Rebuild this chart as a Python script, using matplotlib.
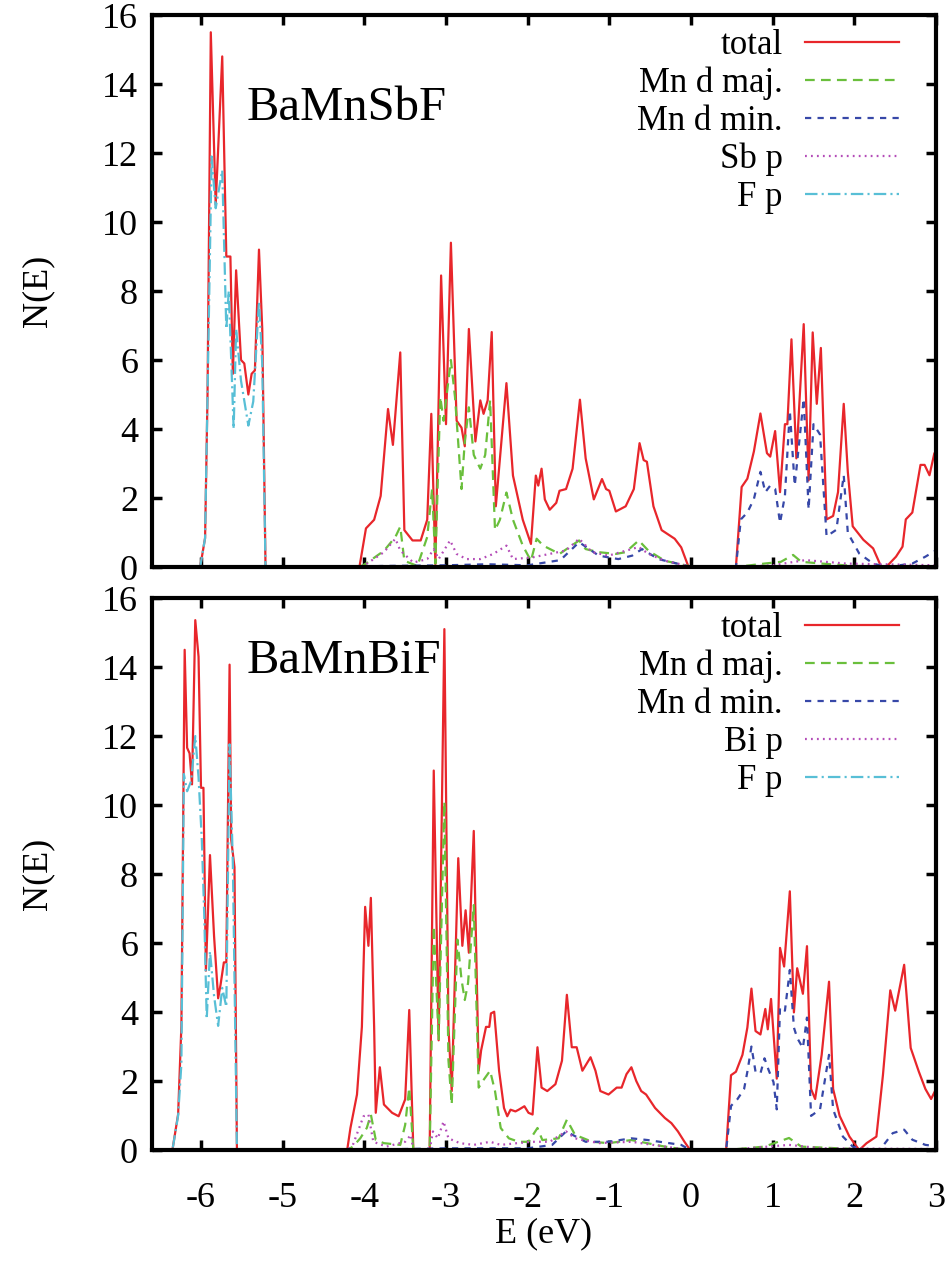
import numpy as np
import matplotlib
matplotlib.use("Agg")
import matplotlib.pyplot as plt

plt.rcParams['font.family'] = ['Liberation Serif', 'DejaVu Serif']
plt.rcParams['lines.scale_dashes'] = False
plt.rcParams['axes.unicode_minus'] = False

# ---- BaMnSbF (top panel) ----
sbf_total_E = [-6.6, -6.01, -5.95, -5.92, -5.88, -5.82, -5.74, -5.69, -5.64, -5.61, -5.57, -5.51, -5.47,
               -5.42, -5.38, -5.34, -5.29, -5.25, -5.21, -4.06, -3.98, -3.88, -3.80, -3.71, -3.65, -3.56,
               -3.51, -3.41, -3.31, -3.23, -3.18, -3.13, -3.06, -3.00, -2.94, -2.87, -2.81, -2.77, -2.72,
               -2.64, -2.58, -2.54, -2.49, -2.44, -2.39, -2.26, -2.18, -2.06, -1.96, -1.90, -1.87, -1.83,
               -1.79, -1.73, -1.65, -1.61, -1.53, -1.45, -1.36, -1.29, -1.19, -1.09, -1.04, -1.00, -0.92,
               -0.80, -0.70, -0.63, -0.58, -0.54, -0.46, -0.36, -0.20, -0.12, -0.03, 0.55, 0.62, 0.69,
               0.77, 0.85, 0.93, 0.97, 1.03, 1.09, 1.15, 1.18, 1.23, 1.29, 1.38, 1.44, 1.49, 1.54, 1.59,
               1.66, 1.74, 1.80, 1.87, 1.92, 1.98, 2.11, 2.23, 2.33, 2.39, 2.51, 2.59, 2.63, 2.71, 2.81,
               2.86, 2.92, 2.98, 3.04]
sbf_total_N = [0, 0, 0.84, 5.0, 15.5, 10.5, 14.8, 9.0, 9.0, 5.6, 8.6, 6.0, 5.9,
               5.0, 5.6, 5.7, 9.2, 6.9, 0, 0, 1.12, 1.37, 2.06, 4.58, 3.54, 6.22,
               1.07, 0.77, 0.77, 1.37, 4.44, 0.08, 8.45, 4.14, 9.4, 4.24, 4.04, 3.5, 6.9,
               3.64, 4.83, 4.44, 4.83, 6.81, 1.76, 5.33, 2.65, 1.37, 0.67, 2.65, 2.36, 2.85,
               1.96, 1.66, 1.86, 2.21, 2.26, 2.85, 4.85, 3.15, 1.96, 2.55, 2.26, 2.21, 1.61,
               1.76, 2.26, 3.59, 3.10, 3.05, 1.76, 1.07, 0.82, 0.57, 0, 0, 2.32, 2.56,
               3.35, 4.45, 3.30, 3.2, 3.94, 2.17, 4.14, 4.14, 6.60, 3.15, 7.04, 2.51, 6.80, 4.73, 6.35,
               1.38, 1.48, 2.17, 4.73, 2.76, 1.18, 0.79, 0.54, 0, 0, 0.3, 0.59, 1.38, 1.58, 2.96,
               2.96, 2.66, 3.3, 3.15]

sbf_majd_E = [-6.6, -4.06, -3.98, -3.76, -3.62, -3.56, -3.51, -3.35, -3.23, -3.17, -3.13, -3.07, -3.03,
              -2.94, -2.89, -2.81, -2.77, -2.72, -2.66, -2.58, -2.52, -2.46, -2.40, -2.34, -2.26, -2.18,
              -2.06, -1.96, -1.89, -1.81, -1.61, -1.37, -1.29, -1.13, -0.92, -0.80, -0.64, -0.52, -0.32,
              -0.03, 0.0, 0.55, 0.9, 1.1, 1.25, 1.35, 1.6, 2.0, 3.04]
sbf_majd_N = [0, 0, 0.1, 0.47, 0.87, 1.17, 0.18, 0.03, 0.87, 2.26, 0.1, 4.93, 4.24,
              6.0, 4.93, 2.26, 3.64, 4.63, 3.25, 2.85, 3.25, 4.83, 1.07, 1.37, 2.16, 1.37,
              0.62, 0.18, 0.82, 0.62, 0.38, 0.77, 0.52, 0.43, 0.38, 0.43, 0.77, 0.47, 0.18,
              0.03, 0, 0, 0.1, 0.15, 0.35, 0.15, 0.1, 0.03, 0]

sbf_mind_E = [-6.6, -4.06, -3.8, -3.0, -2.5, -2.0, -1.6, -1.37, -1.13, -0.89, -0.72, -0.60, -0.40,
              -0.05, 0.0, 0.55, 0.61, 0.69, 0.77, 0.85, 0.91, 0.97, 1.03, 1.09, 1.15, 1.21, 1.27, 1.38,
              1.44, 1.50, 1.58, 1.66, 1.78, 1.87, 1.92, 2.06, 2.23, 2.39, 2.71, 2.87, 3.04]
sbf_mind_N = [0, 0, 0.03, 0.05, 0.08, 0.05, 0.2, 0.72, 0.33, 0.23, 0.33, 0.52, 0.23,
              0.03, 0, 0, 1.38, 1.58, 1.97, 2.76, 2.17, 2.36, 2.27, 1.28, 2.07, 4.53, 2.36, 4.88,
              1.67, 4.14, 3.84, 0.89, 1.08, 2.66, 0.99, 0.39, 0.1, 0.0, 0.1, 0.3, 0.54]

sbf_sbp_E = [-6.6, -4.06, -3.98, -3.76, -3.62, -3.56, -3.40, -3.23, -3.15, -3.09, -2.95, -2.87, -2.75,
             -2.58, -2.42, -2.26, -2.18, -1.94, -1.73, -1.53, -1.37, -1.21, -1.01, -0.64, -0.52, -0.32,
             -0.03, 0.0, 0.55, 1.0, 1.4, 1.9, 3.04]
sbf_sbp_N = [0, 0, 0.08, 0.43, 0.82, 0.48, 0.13, 0.23, 0.52, 0.23, 0.77, 0.38, 0.23,
             0.23, 0.38, 0.62, 0.23, 0.28, 0.38, 0.48, 0.82, 0.43, 0.33, 0.58, 0.38, 0.18,
             0.03, 0, 0, 0.05, 0.2, 0.1, 0.05]

sbf_fp_E = [-6.6, -6.01, -5.95, -5.92, -5.87, -5.82, -5.74, -5.69, -5.66, -5.60, -5.57, -5.51, -5.42,
            -5.36, -5.29, -5.25, -5.21, 3.04]
sbf_fp_N = [0, 0, 0.84, 5.0, 11.9, 10.4, 11.5, 6.9, 8.0, 4.0, 6.9, 5.4, 4.1,
            4.8, 7.7, 5.9, 0, 0]

# ---- BaMnBiF (bottom panel) ----
bif_total_E = [-6.6, -6.35, -6.28, -6.24, -6.20, -6.17, -6.14, -6.11, -6.07, -6.03, -6.00, -5.97, -5.94,
               -5.89, -5.84, -5.79, -5.76, -5.72, -5.69, -5.65, -5.63, -5.59, -5.56, -4.21, -4.17, -4.09,
               -4.03, -3.99, -3.95, -3.92, -3.88, -3.86, -3.81, -3.76, -3.66, -3.58, -3.50, -3.45, -3.40,
               -3.20, -3.15, -3.09, -3.02, -2.97, -2.93, -2.85, -2.80, -2.76, -2.72, -2.66, -2.60, -2.57,
               -2.51, -2.47, -2.45, -2.41, -2.35, -2.29, -2.25, -2.21, -2.15, -2.11, -2.04, -1.99, -1.94,
               -1.88, -1.83, -1.76, -1.66, -1.58, -1.52, -1.46, -1.40, -1.33, -1.23, -1.17, -1.11, -1.01,
               -0.91, -0.85, -0.79, -0.73, -0.67, -0.61, -0.55, -0.44, -0.32, -0.24, -0.16, -0.08, -0.01,
               0.43, 0.49, 0.55, 0.63, 0.69, 0.74, 0.79, 0.85, 0.91, 0.94, 0.98, 1.05, 1.09, 1.14, 1.21,
               1.26, 1.30, 1.37, 1.42, 1.47, 1.52, 1.60, 1.69, 1.74, 1.82, 1.94, 2.06, 2.15, 2.27, 2.35,
               2.44, 2.50, 2.61, 2.69, 2.79, 2.87, 2.94, 3.0, 3.04]
bif_total_N = [0, 0, 1.04, 3.6, 14.5, 11.66, 11.5, 10.6, 15.36, 14.3, 10.5, 10.5, 5.2,
               8.55, 6.2, 4.4, 4.8, 5.44, 5.44, 14.07, 9.0, 8.2, 0, 0, 0.64, 1.61,
               3.57, 7.05, 5.92, 7.31, 3.57, 1.08, 2.4, 1.32, 1.08, 0.98, 1.47, 4.06, 0,
               0, 11.0, 3.18, 15.1, 3.57, 1.71, 8.46, 5.92, 6.95, 5.72, 9.25, 2.3, 2.89,
               3.57, 3.57, 3.96, 4.01, 2.3, 1.22, 0.98, 1.17, 1.12, 1.17, 1.27, 1.08, 1.03,
               2.98, 1.81, 1.71, 1.91, 2.59, 4.5, 2.98, 2.98, 2.3, 2.69, 2.3, 1.71, 1.61,
               1.81, 1.81, 2.2, 2.4, 2.0, 1.71, 1.61, 1.22, 0.93, 0.78, 0.54, 0.24, 0,
               0, 2.17, 2.27, 2.76, 3.55, 4.68, 3.45, 3.35, 4.09, 3.5, 4.38, 2.07, 5.86, 5.32, 7.5,
               3.99, 5.27, 4.53, 5.91, 1.77, 1.48, 2.76, 4.88, 1.77, 0.99, 0.39, 0, 0.2, 0.39, 2.17,
               4.63, 4.04, 5.37, 2.96, 2.27, 1.77, 1.48, 1.77, 1.7]

bif_majd_E = [-6.6, -4.21, -4.14, -4.05, -3.97, -3.92, -3.86, -3.76, -3.56, -3.50, -3.45, -3.40, -3.20,
              -3.15, -3.09, -3.02, -2.97, -2.93, -2.86, -2.81, -2.77, -2.73, -2.66, -2.60, -2.55, -2.46,
              -2.40, -2.33, -2.23, -2.11, -1.99, -1.88, -1.82, -1.62, -1.52, -1.42, -1.21, -1.01, -0.73,
              -0.32, -0.03, 0.43, 0.9, 1.2, 1.35, 2.0, 3.04]
bif_majd_N = [0, 0, 0.1, 0.34, 0.64, 1.03, 0.29, 0.2, 0.15, 0.73, 1.81, 0, 0,
              6.5, 3.18, 10.1, 2.6, 1.32, 6.1, 4.94, 4.35, 4.84, 7.1, 1.81, 2.0, 2.3,
              1.71, 0.64, 0.34, 0.24, 0.24, 0.64, 0.29, 0.34, 0.88, 0.44, 0.24, 0.2, 0.29,
              0.1, 0, 0, 0.1, 0.35, 0.1, 0.03, 0]

bif_mind_E = [-6.6, -4.21, -3.8, -3.0, -2.5, -2.0, -1.7, -1.53, -1.29, -1.01, -0.73, -0.53, -0.12,
              -0.01, 0.43, 0.49, 0.57, 0.65, 0.69, 0.74, 0.79, 0.85, 0.90, 0.95, 1.01, 1.05, 1.09, 1.15,
              1.21, 1.26, 1.30, 1.37, 1.42, 1.47, 1.58, 1.69, 1.74, 1.86, 1.98, 2.15, 2.31, 2.47, 2.61,
              2.71, 2.87, 3.04]
bif_mind_N = [0, 0, 0.02, 0.05, 0.05, 0.05, 0.15, 0.54, 0.24, 0.24, 0.34, 0.29, 0.15,
              0, 0, 1.28, 1.48, 1.77, 2.27, 3.0, 2.27, 2.22, 2.66, 2.32, 1.97, 1.18, 4.14, 4.04,
              5.22, 3.55, 3.25, 2.96, 3.84, 0.99, 1.18, 2.76, 1.18, 0.39, 0.1, 0, 0, 0.49, 0.59,
              0.3, 0.15, 0.1]

bif_bip_E = [-6.6, -4.21, -4.14, -4.01, -3.95, -3.89, -3.73, -3.50, -3.43, -3.40, -3.20, -3.16, -3.10,
             -3.03, -2.97, -2.83, -2.66, -2.46, -2.33, -2.13, -1.94, -1.73, -1.53, -1.42, -1.13, -0.73,
             -0.32, -0.01, 0.43, 1.2, 1.6, 3.04]
bif_bip_N = [0, 0, 0.15, 0.98, 1.03, 0.24, 0.1, 0.24, 0.44, 0, 0, 0.54, 0.34,
             0.83, 0.34, 0.2, 0.15, 0.24, 0.15, 0.2, 0.24, 0.24, 0.54, 0.34, 0.2, 0.24,
             0.1, 0, 0, 0.15, 0.05, 0.03]

bif_fp_E = [-6.6, -6.35, -6.28, -6.24, -6.21, -6.17, -6.12, -6.07, -6.03, -5.99, -5.96, -5.93, -5.89,
            -5.84, -5.79, -5.74, -5.69, -5.65, -5.61, -5.56, 3.04]
bif_fp_N = [0, 0, 1.0, 2.5, 10.9, 10.4, 10.7, 12.0, 10.8, 9.0, 6.8, 3.8, 5.76,
            4.47, 3.6, 4.7, 4.15, 11.76, 8.3, 0, 0]

x_ticks = [-6, -5, -4, -3, -2, -1, 0, 1, 2, 3]
y_ticks = [0, 2, 4, 6, 8, 10, 12, 14, 16]

styles = [
    dict(color='#e8262b', lw=1.6, ls='-'),
    dict(color='#6abf3c', lw=1.6, dashes=(7, 4.5)),
    dict(color='#3748a8', lw=1.6, dashes=(4.5, 4.5)),
    dict(color='#b44cb8', lw=1.6, dashes=(1.3, 3)),
    dict(color='#58bfd6', lw=1.6, dashes=(9, 3, 1.5, 3)),
]

panels = [
    ("BaMnSbF", "Sb p", [(sbf_total_E, sbf_total_N), (sbf_majd_E, sbf_majd_N), (sbf_mind_E, sbf_mind_N),
                         (sbf_sbp_E, sbf_sbp_N), (sbf_fp_E, sbf_fp_N)], 0.81),
    ("BaMnBiF", "Bi p", [(bif_total_E, bif_total_N), (bif_majd_E, bif_majd_N), (bif_mind_E, bif_mind_N),
                         (bif_bip_E, bif_bip_N), (bif_fp_E, bif_fp_N)], 0.864),
]

fig = plt.figure(figsize=(9.47, 12.62), dpi=100)
ax_top = fig.add_axes([0.1605, 0.5507, 0.8279, 0.4374])
ax_bot = fig.add_axes([0.1605, 0.0887, 0.8279, 0.4374])

for ax, (name, p_label, curves, ty) in zip([ax_top, ax_bot], panels):
    labels = ["total", "Mn d maj.", "Mn d min.", p_label, "F p"]
    for (E, N), st, lab in zip(curves, styles, labels):
        ax.plot(E, N, label=lab, **st)
    ax.set_xlim(-6.6, 3)
    ax.set_ylim(0, 16)
    ax.set_xticks(x_ticks)
    ax.set_yticks(y_ticks)
    ax.tick_params(direction='in', length=7, width=2.5, top=True, right=True,
                   labelsize=26)
    ax.tick_params(axis='y', pad=10)
    ax.tick_params(axis='x', pad=23)
    for sp in ax.spines.values():
        sp.set_linewidth(3)
    ax.set_ylabel("N(E)", fontsize=26, labelpad=34)
    ax.text(0.12, ty, name, transform=ax.transAxes, fontsize=35, va='baseline', ha='left')
    leg = ax.legend(loc='upper right', bbox_to_anchor=(0.953, 0.975), markerfirst=False,
                    frameon=False, fontsize=25, handlelength=2.7, handletextpad=0.65,
                    labelspacing=0.14, borderpad=0, borderaxespad=0)

ax_top.tick_params(labelbottom=False)
ax_bot.set_xlabel("E (eV)", fontsize=26, labelpad=2)

fig.savefig("out.png", dpi=100)
